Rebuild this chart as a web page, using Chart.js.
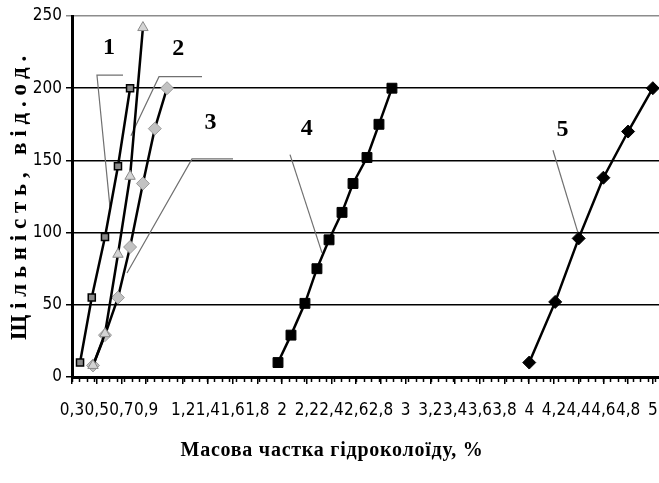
<!DOCTYPE html>
<html>
<head>
<meta charset="utf-8">
<script src="https://cdn.jsdelivr.net/npm/chart.js@4.4.1/dist/chart.umd.min.js"></script>
<style>
    html, body { margin: 0; padding: 0; background: #fff; }
    #wrap { width: 659px; height: 483px; }
</style>
</head>
<body>
<div id="wrap"><canvas id="chart" width="659" height="483"></canvas></div>
<script>
// ─── Data ──────────────────────────────────────────────────

const x1 = [0.365, 0.46, 0.567, 0.672, 0.77];
const y1 = [10, 55, 97, 146, 200];

const x2 = [0.47, 0.567, 0.672, 0.77, 0.874];
const y2 = [8, 30, 85, 139, 242];

const x3 = [0.47, 0.567, 0.672, 0.77, 0.874, 0.97, 1.069];
const y3 = [8, 29, 55, 90, 134, 172, 200];

const x4 = [1.967, 2.072, 2.185, 2.282, 2.38, 2.485, 2.574, 2.687, 2.784, 2.889];
const y4 = [10, 29, 51, 75, 95, 114, 134, 152, 175, 200];

const x5 = [4.0, 4.21, 4.4, 4.6, 4.8, 5.0];
const y5 = [10, 52, 96, 138, 170, 200];

const xTickValues = [0.3, 0.5, 0.7, 0.9, 1.2, 1.4, 1.6, 1.8, 2, 2.2, 2.4, 2.6, 2.8,
                     3, 3.2, 3.4, 3.6, 3.8, 4, 4.2, 4.4, 4.6, 4.8, 5];
const yTickValues = [0, 50, 100, 150, 200, 250];

const xTitle = 'Масова частка гідроколоїду, %';
const yTitle = 'Щільність, від.од.';

// curve numbers and their callout lines, in data units
const curveNames = ['1', '2', '3', '4', '5'];
const curveNameX = [0.60, 1.16, 1.42, 2.20, 4.27];
const curveNameY = [228, 227, 176, 172, 171];
const calloutX = [[0.713, 0.502, 0.607], [1.352, 1.004, 0.777], [1.603, 1.271, 0.745], [2.064, 2.323], [4.192, 4.394]];
const calloutY = [[209, 209, 118], [208, 208, 167], [151, 151, 72], [154, 86], [157, 100]];

const pts = (xs, ys) => xs.map((x, i) => ({ x, y: ys[i] }));

const TICK_FONT = "'Liberation Sans Narrow', 'DejaVu Sans Condensed', 'Liberation Sans', sans-serif";
const SERIF = "'Liberation Serif', 'DejaVu Serif', serif";

// ─── Helpers ───────────────────────────────────────────────

function drawSpaced(ctx, text, cx, cy, width, angle) {
    ctx.save();
    ctx.translate(cx, cy);
    ctx.rotate(angle);
    ctx.letterSpacing = '0px';
    const w = ctx.measureText(text).width;
    const gap = Math.max(0, (width - w) / text.length);
    ctx.letterSpacing = gap + 'px';
    ctx.textAlign = 'left';
    ctx.textBaseline = 'middle';
    ctx.fillText(text, -width / 2, 0);
    ctx.restore();
}

const overlay = {
    id: 'overlay',
    beforeDatasetsDraw(chart) {
        const { ctx, scales: { x, y } } = chart;
        ctx.save();
        calloutX.forEach((xs, i) => {
            ctx.beginPath();
            xs.forEach((v, j) => {
                const px = x.getPixelForValue(v);
                const py = y.getPixelForValue(calloutY[i][j]);
                j ? ctx.lineTo(px, py) : ctx.moveTo(px, py);
            });
            ctx.strokeStyle = '#707070';
            ctx.lineWidth = 1.2;
            ctx.stroke();
        });
        ctx.restore();
    },
    afterDraw(chart) {
        const { ctx, chartArea, scales: { x, y } } = chart;
        ctx.save();

        // dense minor ticks under the x axis
        ctx.strokeStyle = '#000';
        ctx.lineWidth = 1.5;
        for (let v = x.min; v <= x.max; v += 0.0605) {
            const px = Math.round(x.getPixelForValue(v)) + 0.5;
            ctx.beginPath();
            ctx.moveTo(px, chartArea.bottom);
            ctx.lineTo(px, chartArea.bottom + 5);
            ctx.stroke();
        }

        // curve numbers
        ctx.fillStyle = '#000';
        ctx.font = 'bold 24px ' + SERIF;
        ctx.textAlign = 'center';
        ctx.textBaseline = 'middle';
        curveNames.forEach((t, i) => {
            ctx.fillText(t, x.getPixelForValue(curveNameX[i]), y.getPixelForValue(curveNameY[i]));
        });

        // axis titles
        ctx.font = 'bold 23px ' + SERIF;
        drawSpaced(ctx, yTitle, 20, 195, 290, -Math.PI / 2);
        ctx.font = 'bold 20px ' + SERIF;
        drawSpaced(ctx, xTitle, 332, 451, 303, 0);

        ctx.restore();
    }
};

// ─── Chart ─────────────────────────────────────────────────

function series(xs, ys, style, radius, fill, border, bw) {
    return {
        data: pts(xs, ys),
        borderColor: '#000',
        borderWidth: 2.5,
        pointStyle: style,
        pointRadius: radius,
        pointBackgroundColor: fill,
        pointBorderColor: border,
        pointBorderWidth: bw,
        showLine: true,
        tension: 0,
    };
}

new Chart(document.getElementById('chart'), {
    type: 'scatter',
    data: {
        datasets: [
            series(x1, y1, 'rect', 5, '#8a8a8a', '#000', 1.5),
            series(x2, y2, 'triangle', 6, '#d4d4d4', '#8a8a8a', 1),
            series(x3, y3, 'rectRot', 6.5, '#c2c2c2', '#9a9a9a', 1),
            series(x4, y4, 'rect', 7, '#000', '#000', 1),
            series(x5, y5, 'rectRot', 6.5, '#000', '#000', 1),
        ]
    },
    options: {
        responsive: false,
        animation: false,
        layout: { autoPadding: false, padding: { top: 16, left: 0, right: 0, bottom: 0 } },
        plugins: {
            legend: { display: false },
            tooltip: { enabled: false },
        },
        scales: {
            x: {
                type: 'linear',
                min: 0.3,
                max: 5.05,
                afterBuildTicks: s => { s.ticks = xTickValues.map(v => ({ value: v })); },
                afterFit: s => { s.height = 106; s.paddingLeft = 0; s.paddingRight = 0; },
                ticks: {
                    autoSkip: false,
                    maxRotation: 0,
                    padding: 16,
                    color: '#000',
                    font: { family: TICK_FONT, size: 17 },
                    callback: v => String(v).replace('.', ','),
                },
                grid: { drawOnChartArea: false, color: '#000', lineWidth: 1.5, tickLength: 7 },
                border: { color: '#000', width: 3 },
            },
            y: {
                min: 0,
                max: 250,
                afterBuildTicks: s => { s.ticks = yTickValues.map(v => ({ value: v })); },
                afterFit: s => { s.width = 72; },
                ticks: {
                    padding: 4,
                    color: '#000',
                    font: { family: TICK_FONT, size: 17 },
                },
                grid: {
                    color: c => (c.tick && c.tick.value === 250 ? '#8c8c8c' : '#000'),
                    lineWidth: 1.5,
                    tickLength: 6,
                },
                border: { color: '#000', width: 3 },
            },
        },
    },
    plugins: [overlay],
});
</script>
</body>
</html>
